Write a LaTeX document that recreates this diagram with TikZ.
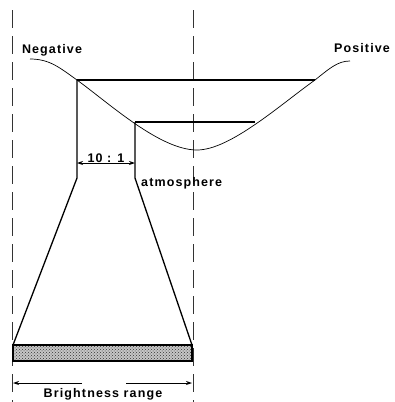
\documentclass[tikz,border=0pt]{standalone}
\usepackage{fontspec}
\setsansfont{Liberation Sans}[LetterSpace=9]
\usepackage{tikz}
\usetikzlibrary{arrows.meta,patterns,calc}
\tikzset{
  guide/.style={thin,dash pattern=on 18pt off 8pt,draw=black!80},
  frame/.style={line width=1.3pt,draw=black},
  curve/.style={line width=0.7pt,draw=black},
  dim/.style={{Stealth[length=6pt,width=4pt]}-{Stealth[length=6pt,width=4pt]},line width=0.9pt},
  dim-half/.style={-{Stealth[length=6pt,width=4pt]},line width=0.9pt},
  label-text/.style={font=\sffamily\bfseries\fontsize{12.5}{14}\selectfont,inner sep=1pt},
}

\begin{document}
\begin{tikzpicture}[x=1pt,y=-1pt]
  \useasboundingbox (0,0) rectangle (395,402);
  % key points (pixel grid of the plate)
  \coordinate (hi-l)   at (77,80);
  \coordinate (hi-r)   at (315,80);
  \coordinate (lo-l)   at (135,122);
  \coordinate (lo-r)   at (255,122);
  \coordinate (neck-l) at (77,178);
  \coordinate (neck-r) at (135,178);
  \coordinate (bar-nw) at (13,345);
  \coordinate (bar-se) at (192,361);
  \coordinate (bar-ne) at (192,345);

  % guide lines
  \draw[guide] (12,10) -- (12,402);
  \draw[guide] (193,10) -- (193,402);

  % characteristic curve
  \draw[curve] (30,59) .. controls (50,59) and (60,68) .. (hi-l)
    .. controls (110,104) and (160,150) .. (197,150)
    .. controls (230,150) and (280,105) .. (hi-r)
    .. controls (330,68) and (338,61) .. (350,61);

  \node[label-text] (neg) at (52,50) {Negative};
  \node[label-text] (pos) at (362,48) {Positive};

  % levels and funnel
  \draw[frame] (hi-l) -- (hi-r);
  \draw[frame] (lo-l) -- (lo-r);
  \draw[frame] (hi-l) -- (neck-l) -- (bar-nw);
  \draw[frame] (lo-l) -- (neck-r) -- (bar-ne);

  % bar
  \fill[gray!45] (bar-nw) rectangle (bar-se);
  \fill[pattern=crosshatch dots,pattern color=black!80] (bar-nw) rectangle (bar-se);
  \draw[frame] (bar-nw) rectangle (bar-se);

  % 10:1
  \draw[dim] (77,163) -- (135,163);
  \node[label-text,anchor=south,inner sep=0.5pt] (ratio) at (106,163) {10 : 1};
  \node[label-text,anchor=west] (atm) at (140,183) {atmosphere};

  % brightness range
  \coordinate (br-l) at (82,383);
  \coordinate (br-r) at (126,383);
  \draw[dim-half] (br-l) -- (13,383);
  \draw[dim-half] (br-r) -- (192,383);
  \node[label-text] (range) at (103,394) {Brightness range};
\end{tikzpicture}
\end{document}
